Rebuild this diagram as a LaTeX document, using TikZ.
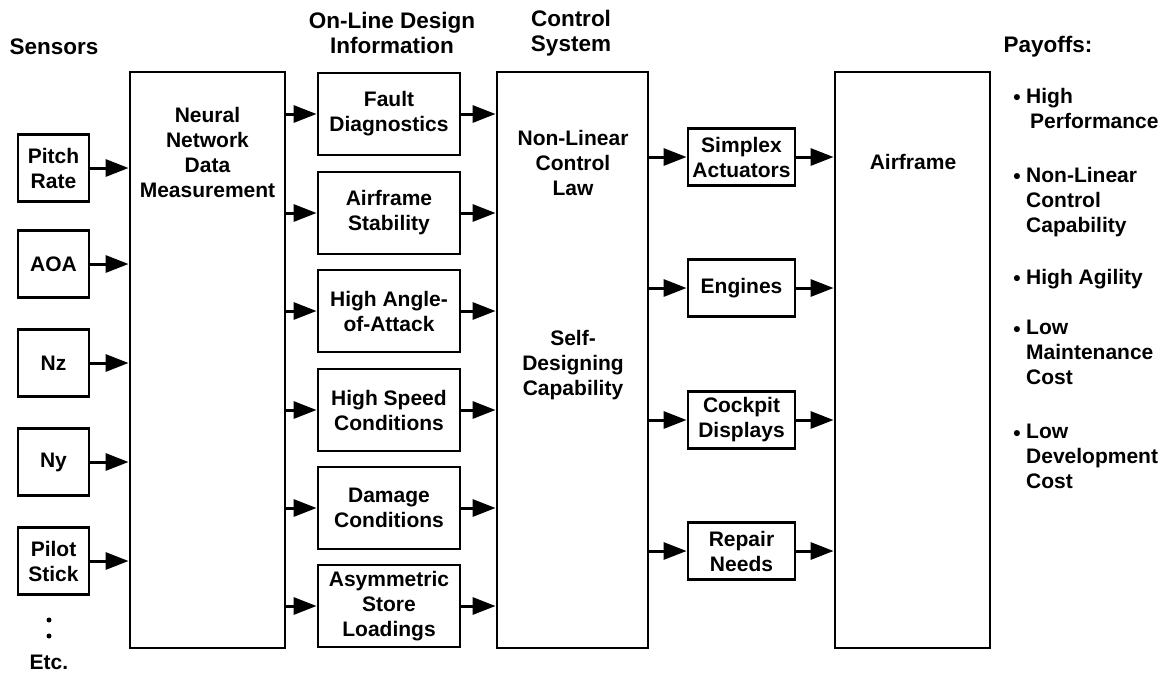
\documentclass[tikz,border=0pt]{standalone}
\usepackage{fontspec}
\setmainfont{Liberation Sans}
\usetikzlibrary{arrows.meta}
\tikzset{
  every node/.append style={font=\fontsize{21}{25}\selectfont\bfseries},
  head/.style={font=\fontsize{22.5}{25}\selectfont\bfseries, align=center},
  sensorbox/.style={draw, line width=2.8pt, minimum width=71pt, minimum height=67pt, inner sep=0pt, align=center},
  infobox/.style={draw, line width=2.8pt, minimum width=142pt, minimum height=82pt, inner sep=0pt, align=center},
  outbox/.style={draw, line width=2.8pt, minimum width=107pt, minimum height=57pt, inner sep=0pt, align=center},
  bigbox/.style={draw, line width=2.8pt, minimum width=#1, minimum height=576pt, inner sep=0pt},
  flow/.style={-{Triangle[length=23pt, width=17pt]}, line width=3pt},
  payoff/.style={anchor=north west, align=left, inner sep=0pt}
}

\begin{document}
\begin{tikzpicture}[x=1pt, y=-1pt]
\useasboundingbox (0,0) rectangle (1165,673);
\node[head] (sensors) at (54,47) {Sensors};
\node[head] (online) at (392,33) {On-Line Design\\Information};
\node[head] (system) at (571,33) {Control\\System};
\node[head, anchor=west] (payoffs) at (1000,47) {Payoffs:};
\node[sensorbox] (pitch) at (53.5,168) {Pitch\\Rate};
\node[sensorbox] (aoa) at (53.5,264) {AOA};
\node[sensorbox] (nz) at (53.5,363) {Nz};
\node[sensorbox] (ny) at (53.5,462) {Ny};
\node[sensorbox] (pilot) at (53.5,561) {Pilot\\Stick};
\fill (49,620) circle (2.5pt);
\fill (49,636) circle (2.5pt);
\node (etc) at (49,662) {Etc.};
\node[bigbox=155pt] (nn) at (207.5,360) {};
\node[anchor=north, align=center] (nntext) at (207.5,104) {Neural\\Network\\Data\\Measurement};
\node[infobox] (fault) at (389,114) {Fault\\Diagnostics};
\node[infobox] (stab) at (389,213) {Airframe\\Stability};
\node[infobox] (angle) at (389,311) {High Angle-\\of-Attack};
\node[infobox] (speed) at (389,410) {High Speed\\Conditions};
\node[infobox] (damage) at (389,508) {Damage\\Conditions};
\node[infobox] (store) at (389,606) {Asymmetric\\Store\\Loadings};
\node[bigbox=151pt] (ctrl) at (572.5,360) {};
\node[align=center] (law) at (573,163) {Non-Linear\\Control\\Law};
\node[align=center] (self) at (573,365) {Self-\\Designing\\Capability};
\node[outbox] (simplex) at (741.5,157) {Simplex\\Actuators};
\node[outbox] (engines) at (741.5,288) {Engines};
\node[outbox] (cockpit) at (741.5,420) {Cockpit\\Displays};
\node[outbox] (repair) at (741.5,551) {Repair\\Needs};
\node[bigbox=155pt] (air) at (912.5,360) {};
\node (airtext) at (913,162) {Airframe};
\foreach \s in {pitch,aoa,nz,ny,pilot}
  \draw[flow] (\s.east) -- (\s.east -| nn.west);
\foreach \i in {fault,stab,angle,speed,damage,store} {
  \draw[flow] (\i.west -| nn.east) -- (\i.west);
  \draw[flow] (\i.east) -- (\i.east -| ctrl.west);
}
\foreach \o in {simplex,engines,cockpit,repair} {
  \draw[flow] (\o.west -| ctrl.east) -- (\o.west);
  \draw[flow] (\o.east) -- (\o.east -| air.west);
}
\node (b1) at (1017,100) {•};
\node (b2) at (1017,179) {•};
\node (b3) at (1017,281) {•};
\node (b4) at (1017,332) {•};
\node (b5) at (1017,436) {•};
\node[payoff] (t1) at (1026,88) {High\\\hspace{4pt}Performance};
\node[payoff] (t2) at (1026,167) {Non-Linear\\Control\\Capability};
\node[payoff] (t3) at (1026,269) {High Agility};
\node[payoff] (t4) at (1026,320) {Low\\Maintenance\\Cost};
\node[payoff] (t5) at (1026,424) {Low\\Development\\Cost};
\end{tikzpicture}
\end{document}
